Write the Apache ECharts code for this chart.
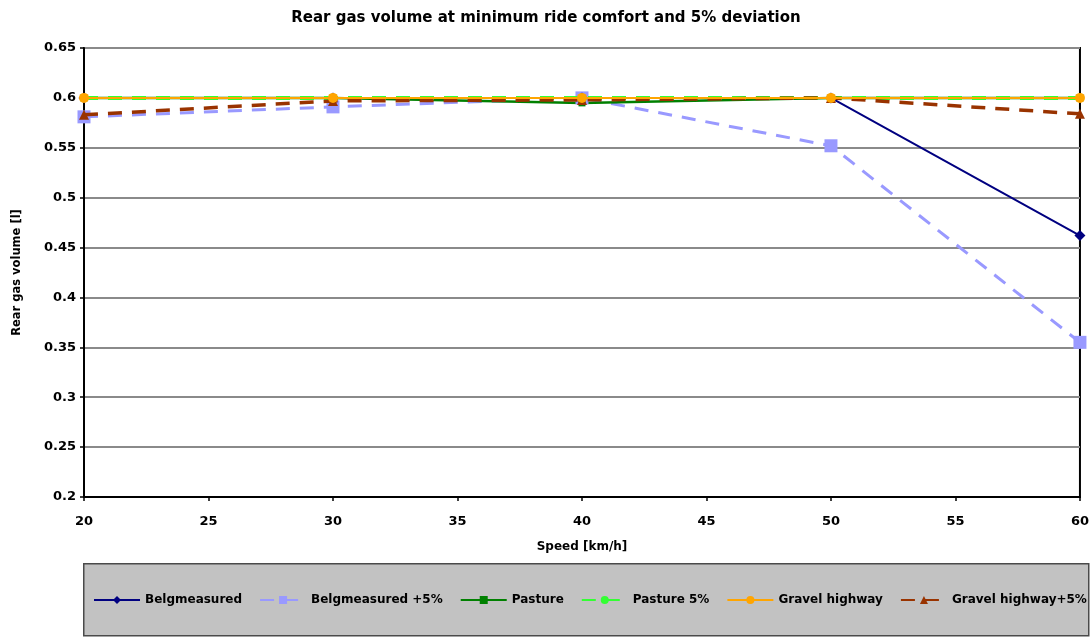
<!DOCTYPE html>
<html>
<head>
<meta charset="utf-8">
<script src="https://cdn.jsdelivr.net/npm/echarts@6/dist/echarts.min.js"></script>
<style>
  html, body { margin: 0; padding: 0; background: #fff; }
  #chart { width: 1092px; height: 638px; }
</style>
</head>
<body>
<div id="chart"></div>
<script>
// Speeds in km/h
const speeds = [20, 30, 40, 50, 60];

// Rear gas volume [l] per road profile
const belgMeasured = [0.600, 0.600, 0.600, 0.600, 0.462];
const belgMeasured5 = [0.581, 0.591, 0.600, 0.552, 0.355];
const pasture = [0.600, 0.600, 0.595, 0.600, 0.600];
const pasture5 = [0.600, 0.600, 0.600, 0.600, 0.600];
const gravelHighway = [0.600, 0.600, 0.600, 0.600, 0.600];
const gravelHighway5 = [0.583, 0.597, 0.598, 0.600, 0.584];

const seriesNames = ['Belgmeasured', 'Belgmeasured +5%', 'Pasture', 'Pasture 5%', 'Gravel highway', 'Gravel highway+5%'];

function pairs(vals) {
  return speeds.map((s, i) => [s, vals[i]]);
}

const font = '"DejaVu Sans", Verdana, sans-serif';

function lineSeries(name, vals, color, symbol, symbolSize, type, width, z) {
  return {
    name: name,
    type: 'line',
    data: pairs(vals),
    symbol: symbol,
    symbolSize: symbolSize,
    itemStyle: { color: color },
    lineStyle: { color: color, width: width, type: type },
    z: z,
    animation: false
  };
}

const chart = echarts.init(document.getElementById('chart'));
chart.setOption({
  backgroundColor: '#ffffff',
  title: {
    text: 'Rear gas volume at minimum ride comfort and 5% deviation',
    left: 'center',
    top: 6,
    textStyle: { fontFamily: font, fontSize: 15, fontWeight: 'bold', color: '#000' }
  },
  graphic: [{
    type: 'rect',
    left: 83, top: 563,
    shape: { width: 1005, height: 72 },
    style: { fill: '#c2c2c2', stroke: '#4a4a4a', lineWidth: 1.5 },
    z: 0
  }],
  grid: {
    left: 84, right: 7, top: 48, bottom: 141,
    show: true,
    borderColor: '#000',
    borderWidth: 2,
    backgroundColor: '#fff'
  },
  xAxis: {
    type: 'value',
    min: 20, max: 60, interval: 5,
    name: 'Speed [km/h]',
    nameLocation: 'middle',
    nameGap: 44,
    nameTextStyle: { fontFamily: font, fontSize: 12, fontWeight: 'bold', color: '#000' },
    axisLine: { show: true, lineStyle: { color: '#000', width: 2 } },
    axisTick: { show: true, length: 4, lineStyle: { color: '#000', width: 1.5 } },
    axisLabel: { fontFamily: font, fontSize: 13, fontWeight: 'bold', color: '#000', margin: 18 },
    splitLine: { show: false }
  },
  yAxis: {
    type: 'value',
    min: 0.2, max: 0.65, interval: 0.05,
    name: 'Rear gas volume [l]',
    nameLocation: 'middle',
    nameGap: 61,
    nameTextStyle: { fontFamily: font, fontSize: 11.5, fontWeight: 'bold', color: '#000' },
    axisLine: { show: true, lineStyle: { color: '#000', width: 2 } },
    axisTick: { show: true, length: 4, lineStyle: { color: '#000', width: 1.5 } },
    axisLabel: {
      fontFamily: font, fontSize: 13, fontWeight: 'bold', color: '#000', margin: 8,
      formatter: v => String(parseFloat(v.toFixed(2)))
    },
    splitLine: { show: true, lineStyle: { color: '#8a8a8a', width: 2 } }
  },
  legend: {
    data: seriesNames,
    top: 594,
    left: 93,
    padding: 0,
    itemWidth: 46,
    itemHeight: 10,
    itemGap: 17,
    z: 5,
    textStyle: { fontFamily: font, fontSize: 12, fontWeight: 'bold', color: '#000' }
  },
  series: [
    lineSeries('Belgmeasured', belgMeasured, '#000080', 'diamond', 11, 'solid', 2, 4),
    lineSeries('Belgmeasured +5%', belgMeasured5, '#9999ff', 'rect', 13, [14, 10], 3, 3),
    lineSeries('Pasture', pasture, '#008000', 'rect', 7, 'solid', 2.5, 3),
    lineSeries('Pasture 5%', pasture5, '#33ff33', 'circle', 0, [14, 10], 4, 5),
    lineSeries('Gravel highway', gravelHighway, '#ffa500', 'circle', 10, 'solid', 2, 7),
    lineSeries('Gravel highway+5%', gravelHighway5, '#993300', 'triangle', 10, [14, 10], 3.5, 6)
  ]
});
</script>
</body>
</html>
